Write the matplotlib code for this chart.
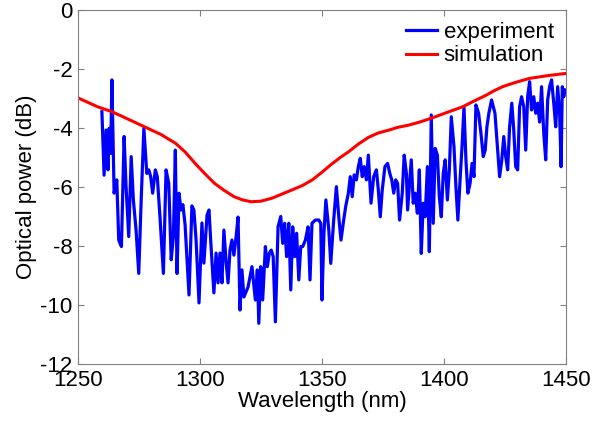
import matplotlib
matplotlib.use("Agg")
import matplotlib.pyplot as plt
import numpy as np

# measured spectrum (wavelength in nm, power in dB)
exp_wl = [1259.8, 1260.7, 1261.5, 1262.3, 1262.8, 1263.4, 1263.9, 1264.8, 1265.9, 1266.7,
          1267.8, 1268.9, 1269.7, 1270.8, 1271.8, 1272.7, 1273.8, 1274.9, 1275.9, 1277.0,
          1278.2, 1279.0, 1279.8, 1280.6, 1281.7, 1282.5, 1283.6, 1285.0, 1286.1, 1287.2,
          1288.2, 1289.1, 1289.9, 1290.6, 1291.4, 1292.2, 1293.0, 1293.9, 1295.5, 1296.7,
          1297.5, 1298.4, 1299.6, 1300.8, 1301.6, 1302.9, 1303.7, 1304.5, 1305.7, 1306.6,
          1307.4, 1308.2, 1309.0, 1309.8, 1310.7, 1311.5, 1312.3, 1313.1, 1313.9, 1314.8,
          1315.6, 1316.4, 1317.2, 1318.0, 1319.7, 1321.3, 1322.7, 1323.5, 1324.1, 1324.9,
          1325.7, 1326.8, 1327.6, 1328.4, 1329.2, 1330.0, 1330.9, 1332.0, 1333.1, 1333.9,
          1334.7, 1335.5, 1336.4, 1337.2, 1338.0, 1338.8, 1339.6, 1340.5, 1341.3, 1342.1,
          1343.2, 1344.3, 1345.1, 1345.9, 1347.3, 1348.7, 1349.5, 1350.0, 1350.8, 1351.6,
          1352.8, 1353.6, 1354.8, 1355.9, 1357.0, 1357.8, 1358.9, 1359.7, 1360.8, 1361.6,
          1362.4, 1363.2, 1364.1, 1364.9, 1365.7, 1366.5, 1367.3, 1368.2, 1369.0, 1370.1,
          1371.2, 1372.3, 1373.1, 1373.9, 1374.7, 1375.8, 1376.9, 1377.8, 1378.6, 1379.4,
          1380.2, 1381.0, 1381.8, 1382.9, 1383.7, 1384.6, 1385.1, 1386.6, 1387.4, 1388.2,
          1389.1, 1389.9, 1390.7, 1391.5, 1392.3, 1393.2, 1394.0, 1394.8, 1395.6, 1396.4,
          1397.3, 1398.1, 1398.9, 1399.7, 1400.5, 1401.4, 1402.2, 1403.0, 1404.1, 1404.9,
          1405.7, 1406.6, 1407.4, 1408.2, 1409.0, 1409.8, 1410.7, 1411.5, 1412.3, 1413.1,
          1414.2, 1415.3, 1416.1, 1416.9, 1417.6, 1418.4, 1419.5, 1420.9, 1421.7, 1422.8,
          1423.7, 1424.5, 1425.3, 1426.1, 1426.9, 1427.8, 1428.6, 1429.4, 1430.2, 1431.0,
          1431.8, 1432.7, 1433.5, 1434.3, 1435.1, 1435.9, 1436.8, 1437.6, 1438.4, 1439.2,
          1440.0, 1440.9, 1441.7, 1442.5, 1443.3, 1444.1, 1445.0, 1445.8, 1446.6, 1447.4,
          1448.0, 1448.5, 1449.1, 1449.6]
exp_db = [-3.45, -5.6, -4.07, -5.42, -4.01, -4.86, -2.37, -6.21, -5.76, -7.80,
          -8.02, -4.29, -5.99, -7.68, -4.97, -6.44, -7.46, -8.93, -6.44, -4.01,
          -5.54, -5.42, -5.65, -6.21, -5.42, -5.65, -7.01, -8.93, -5.42, -5.88,
          -8.47, -7.68, -4.75, -8.93, -6.21, -6.78, -6.60, -7.29, -9.66, -6.64,
          -6.78, -7.80, -9.93, -7.22, -8.58, -6.95, -6.78, -7.97, -9.59, -8.24,
          -9.25, -8.24, -9.25, -7.46, -8.54, -9.25, -8.14, -7.80, -8.31, -7.69,
          -7.02, -10.17, -8.81, -9.73, -9.39, -8.70, -9.83, -8.81, -10.62, -8.70,
          -9.83, -8.02, -8.70, -8.25, -8.14, -8.36, -10.57, -7.35, -7.00, -7.91,
          -7.23, -8.36, -7.23, -9.49, -7.35, -8.36, -7.57, -9.15, -8.02, -8.02,
          -7.80, -7.35, -9.15, -7.23, -7.12, -7.12, -7.23, -9.83, -7.57, -6.44,
          -7.46, -8.59, -7.12, -5.99, -7.12, -7.80, -7.12, -6.67, -6.21, -5.65,
          -6.33, -5.59, -5.76, -5.31, -5.03, -5.65, -5.31, -5.76, -4.92, -6.55,
          -5.65, -5.42, -6.10, -7.01, -6.10, -5.31, -5.20, -5.54, -5.76, -6.21,
          -5.76, -5.88, -7.12, -6.21, -4.92, -5.54, -6.78, -5.08, -6.55, -6.21,
          -6.89, -5.42, -8.25, -6.55, -7.01, -5.31, -8.19, -3.56, -7.23, -4.69,
          -4.92, -6.33, -7.01, -5.54, -5.08, -6.44, -5.42, -3.62, -4.63, -5.99,
          -7.12, -5.76, -4.63, -3.28, -5.08, -6.21, -5.88, -5.20, -5.65, -3.22,
          -3.50, -4.29, -4.97, -4.75, -3.96, -3.50, -3.05, -3.50, -4.41, -5.65,
          -5.08, -4.29, -4.97, -5.42, -3.96, -3.16, -4.07, -5.31, -5.42, -3.28,
          -2.94, -3.28, -4.75, -2.94, -2.43, -3.39, -2.94, -3.50, -3.16, -3.80,
          -2.60, -4.18, -5.08, -3.05, -2.60, -2.37, -3.16, -3.96, -2.60, -3.50,
          -5.31, -2.60, -2.94, -2.71]

# simulated spectrum
sim_wl = [1250, 1254, 1258, 1264, 1270, 1277, 1284, 1290, 1294, 1298, 1302, 1306, 1310,
          1314, 1317.5, 1321, 1325, 1329.5, 1333, 1337.7, 1342, 1346, 1350, 1354,
          1357.5, 1361, 1365, 1369, 1373, 1377.5, 1381, 1385.7, 1390, 1394.8, 1401,
          1407.7, 1412, 1417, 1420.5, 1424, 1429.5, 1435, 1443, 1450]
sim_db = [-2.98, -3.13, -3.28, -3.45, -3.68, -3.95, -4.22, -4.52, -4.82, -5.2, -5.55, -5.88,
          -6.12, -6.33, -6.44, -6.5, -6.48, -6.38, -6.26, -6.1, -5.95, -5.76, -5.5, -5.22,
          -5.0, -4.8, -4.54, -4.32, -4.17, -4.07, -3.98, -3.9, -3.8, -3.67, -3.48,
          -3.28, -3.1, -2.9, -2.74, -2.6, -2.45, -2.32, -2.22, -2.15]

plt.rcParams['font.family'] = ['Liberation Sans', 'DejaVu Sans']

fig = plt.figure(figsize=(5.94, 4.21), dpi=100)
ax = fig.add_axes([0.1313, 0.1354, 0.8215, 0.8409])

ax.plot(exp_wl, exp_db, color=(0, 0, 1), lw=2.3, label='experiment')
ax.plot(sim_wl, sim_db, color=(1, 0, 0), lw=2.2, label='simulation')

ax.set_xlim(1250, 1450)
ax.set_ylim(-12, 0)
ax.set_xticks([1250, 1300, 1350, 1400, 1450])
ax.set_yticks([-12, -10, -8, -6, -4, -2, 0])
ax.set_yticklabels(['-12', '-10', '-8', '-6', '-4', '-2', '0'])

for s in ax.spines.values():
    s.set_color('#808080')
    s.set_linewidth(0.8)
ax.tick_params(direction='in', length=4, width=0.8, color='#808080',
               top=True, right=True, labelsize=16, pad=4)

ax.set_xlabel('Wavelength (nm)', fontsize=16, labelpad=0)
ax.set_ylabel('Optical power (dB)', fontsize=16, labelpad=2)

ax.legend(loc='upper right', frameon=False, fontsize=16, handlelength=1.4,
          handletextpad=0.3, labelspacing=0.1, borderaxespad=0.15)

fig.savefig('out.png', dpi=100)
